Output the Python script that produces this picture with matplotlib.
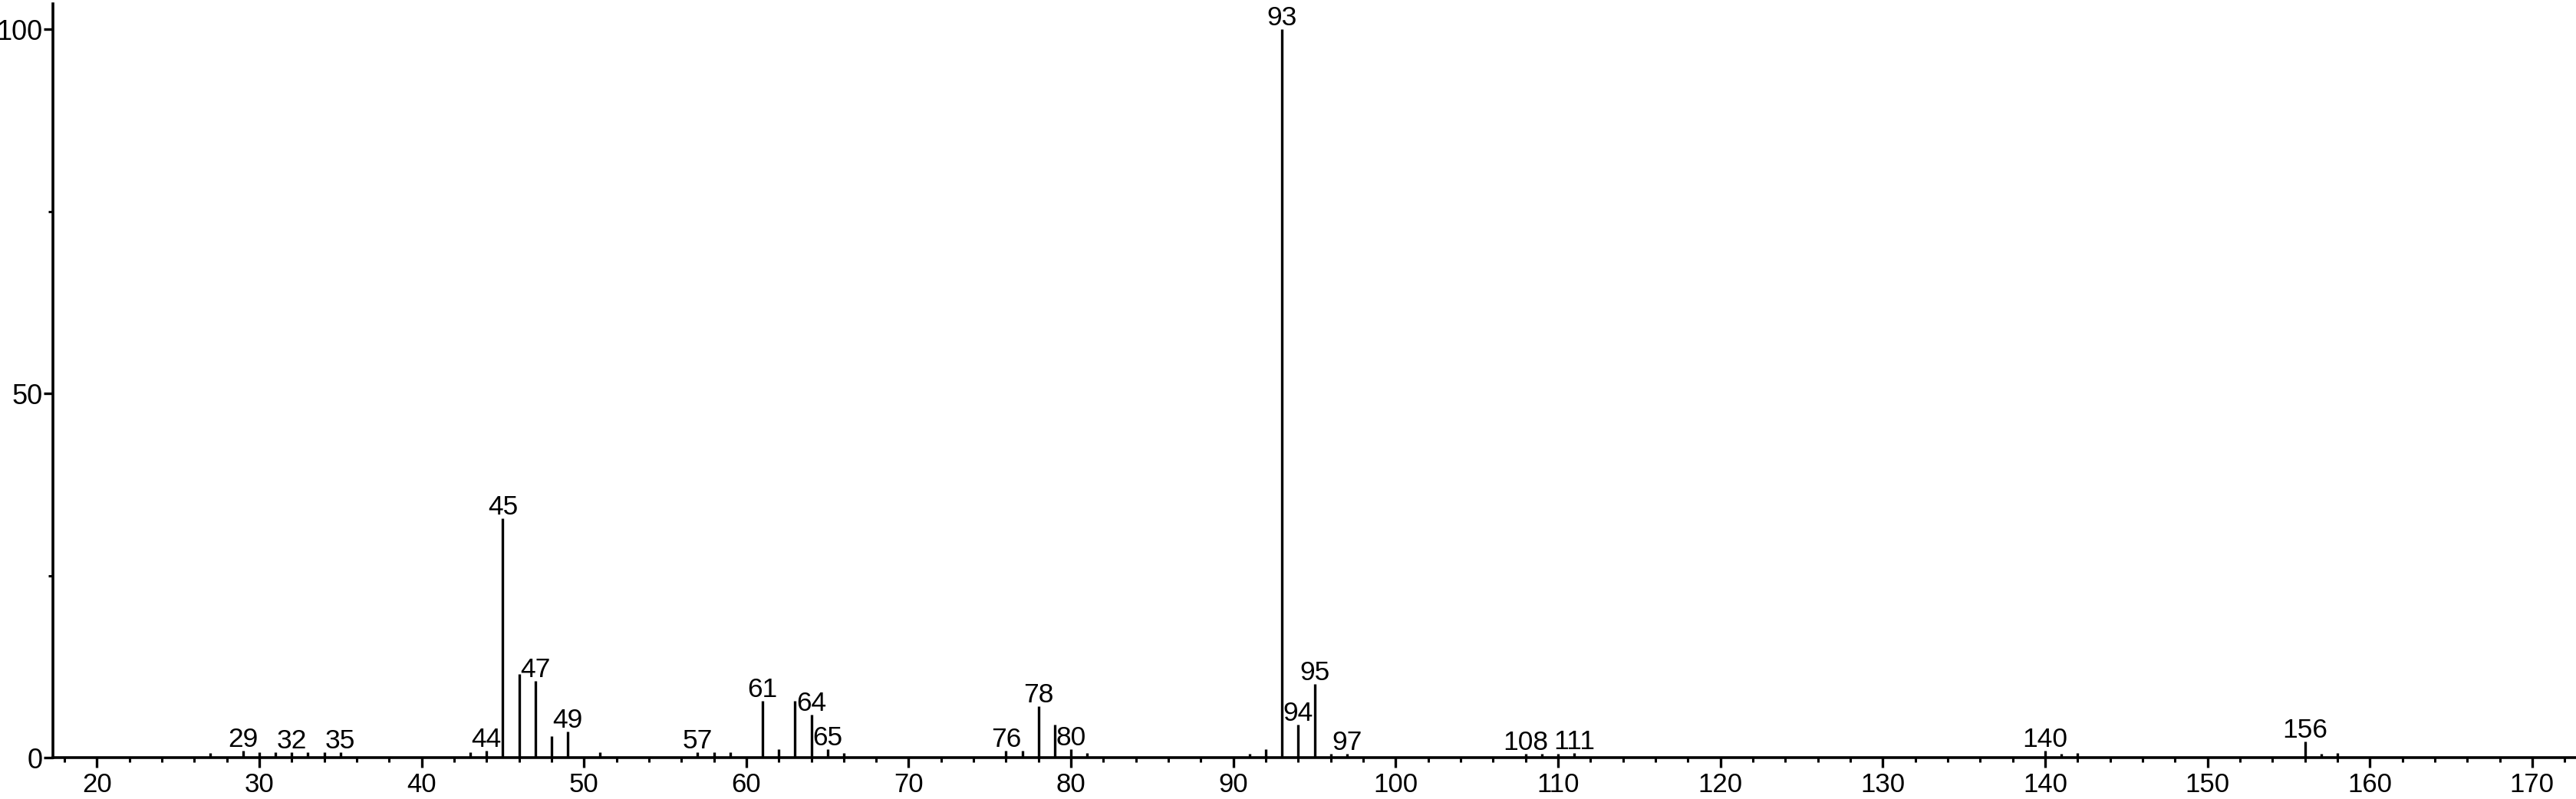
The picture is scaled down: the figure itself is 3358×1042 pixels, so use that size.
## Mass spectrum stick plot
import matplotlib
matplotlib.use("Agg")
import matplotlib.pyplot as plt
from matplotlib.ticker import MultipleLocator

## m/z values and relative intensities
mz = [27, 29, 30, 31, 32, 33, 34, 35, 43, 44, 45, 46, 47, 48, 49, 51,
      57, 58, 59, 61, 62, 63, 64, 65, 66, 76, 77, 78, 79, 80, 81,
      91, 92, 93, 94, 95, 96, 97, 108, 109, 110, 111,
      140, 141, 142, 156, 157, 158]
intensity = [0.6, 1.0, 0.7, 0.7, 0.7, 0.7, 0.7, 0.7, 0.7, 1.0, 32.8, 11.5, 10.5, 3.0, 3.6, 0.7,
             0.7, 0.7, 0.7, 7.8, 1.2, 7.8, 5.9, 1.2, 0.6, 0.9, 0.9, 7.1, 4.5, 1.2, 0.6,
             0.5, 1.2, 100, 4.5, 10.1, 0.5, 0.5, 0.5, 0.5, 0.5, 0.6,
             0.9, 0.5, 0.6, 2.2, 0.5, 0.6]

## peaks that carry a label
labeled = [29, 32, 35, 44, 45, 47, 49, 57, 61, 64, 65, 76, 78, 80,
           93, 94, 95, 97, 108, 111, 140, 156]

plt.rcParams['font.family'] = ['Liberation Sans', 'DejaVu Sans']

fig = plt.figure(figsize=(33.58, 10.42), dpi=100)
ax = fig.add_axes([0.0206, 0.0518, 0.9794, 0.9434])

ax.vlines(mz, 0, intensity, color="black", linewidth=2.4)

for m, h in zip(mz, intensity):
    if m in labeled:
        ax.annotate(str(m), (m, h), xytext=(0, 5), textcoords="offset pixels",
                    ha="center", va="baseline", fontsize=25.5)

ax.set_xlim(17.3, 172.7)
ax.set_ylim(0, 103.5)

## axes style: only left and bottom lines
ax.spines['top'].set_visible(False)
ax.spines['right'].set_visible(False)
ax.spines['left'].set_linewidth(2.6)
ax.spines['bottom'].set_linewidth(2.6)

ax.xaxis.set_major_locator(MultipleLocator(10))
ax.xaxis.set_minor_locator(MultipleLocator(2))
ax.yaxis.set_major_locator(MultipleLocator(50))
ax.yaxis.set_minor_locator(MultipleLocator(25))

ax.tick_params(axis="both", which="major", direction="out", length=9, width=2.4)
ax.tick_params(axis="both", which="minor", direction="out", length=4.5, width=2.2)
ax.tick_params(axis="x", which="major", labelsize=25, pad=5)
ax.tick_params(axis="y", which="major", labelsize=26, pad=1)

fig.savefig("out.png", dpi=100, facecolor="white")
